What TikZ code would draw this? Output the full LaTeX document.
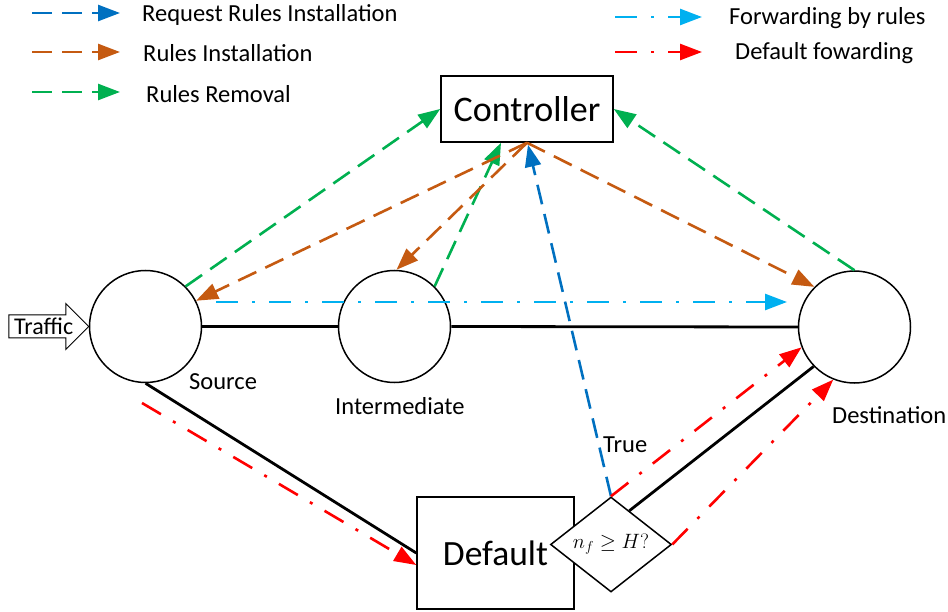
\documentclass[tikz,border=0pt]{standalone}
\usepackage{fontspec}
\setmainfont{Carlito}
\usetikzlibrary{arrows.meta,shapes.geometric,calc}

\definecolor{reqblue}{HTML}{0070C0}
\definecolor{instorange}{HTML}{C55A11}
\definecolor{remgreen}{HTML}{00B050}
\definecolor{fwdcyan}{HTML}{00B0F0}
\definecolor{defred}{HTML}{FF0000}

\begin{document}
\begin{tikzpicture}[x=1pt,y=-1pt,
  lbl/.style={font=\fontsize{24.5}{28}\selectfont, anchor=base west, inner sep=0pt},
  hostnode/.style={circle, draw, line width=1.5pt, minimum size=112pt, inner sep=0pt, fill=white},
  boxnode/.style={rectangle, draw, line width=1.5pt, fill=white, inner sep=0pt},
  tipped/.style={-{Triangle[length=22pt,width=16pt]}},
  dashline/.style={tipped, line width=2.6pt, dash pattern=on 20pt off 10pt},
  dashdotline/.style={tipped, line width=2.6pt, dash pattern=on 22pt off 14pt on 3pt off 14pt},
  link/.style={line width=2.8pt},
]
\useasboundingbox (0,0) rectangle (948,612);

% ---------- legend ----------
\coordinate (l1s) at (32,13);  \coordinate (l1e) at (120,13);
\coordinate (l2s) at (32,52);  \coordinate (l2e) at (120,52);
\coordinate (l3s) at (32,92);  \coordinate (l3e) at (120,92);
\coordinate (r1s) at (615,17); \coordinate (r1e) at (702,17);
\coordinate (r2s) at (615,52); \coordinate (r2e) at (702,52);
\draw[dashline, reqblue] (l1s) -- (l1e);
\draw[dashline, instorange] (l2s) -- (l2e);
\draw[dashline, remgreen] (l3s) -- (l3e);
\draw[dashdotline, fwdcyan] (r1s) -- (r1e);
\draw[dashdotline, defred] (r2s) -- (r2e);
\node[lbl] (t1) at (142,22) {Request Rules Installation};
\node[lbl] (t2) at (143,62) {Rules Installation};
\node[lbl] (t3) at (146,103) {Rules Removal};
\node[lbl] (t4) at (729,25) {Forwarding by rules};
\node[lbl] (t5) at (735,60) {Default fowarding};

% ---------- nodes ----------
\node[hostnode] (src) at (145.5,326.5) {};
\node[hostnode] (mid) at (394.5,326.5) {};
\node[hostnode] (dst) at (854.5,327) {};
\node[boxnode, minimum width=172pt, minimum height=66pt, font=\fontsize{36}{40}\selectfont]
  (ctrl) at (527,109) {Controller};
\node[boxnode, minimum width=157pt, minimum height=112pt, font=\fontsize{35.5}{40}\selectfont]
  (dflt) at (495.5,553) {Default};
\node[diamond, draw, line width=1.5pt, fill=white, inner sep=0pt, aspect=1.27,
  minimum width=121pt, minimum height=95pt, font=\fontsize{22}{26}\selectfont]
  (dec) at (611,544.5) {$n_f \geq H?$};

\node[lbl] (lsrc) at (189,389) {Source};
\node[lbl] (lmid) at (335,414) {Intermediate};
\node[lbl] (ldst) at (832,423) {Destination};
\node[lbl] (ltrue) at (603,452) {True};

% ---------- incoming traffic ----------
\draw[line width=1pt, fill=white] (src.west) -- ++(-23,-23) -- ++(0,11.5) -- ++(-57,0)
  -- ++(0,23) -- ++(57,0) -- ++(0,11.5) -- cycle;
\node[lbl, font=\fontsize{24}{28}\selectfont] (traffic) at (14,335) {Traffic};

% ---------- physical links ----------
\draw[link] (src.east) -- (mid.west);
\draw[link] (mid.east) -- (dst.west);
\draw[link] (src.south) -- (dflt.west);
\draw[link] ($(dec.north)!0.3!(dec.east)$) -- (dst.224);

% ---------- control messages ----------
\draw[dashline, remgreen] (src.45) -- (ctrl.west);
\draw[dashline, remgreen] (mid.45) -- ($(ctrl.south)+(-26,0)$);
\draw[dashline, remgreen] (dst.north) -- (ctrl.east);
\draw[dashline, instorange] (ctrl.south) -- (src.27);
\draw[dashline, instorange] (ctrl.south) -- (mid.88);
\draw[dashline, instorange] (ctrl.south) -- (dst.135);
\draw[dashline, reqblue] (dec.north) -- ($(ctrl.south)+(1,2)$);

% ---------- data forwarding ----------
\coordinate (fwdS) at (216,302);
\coordinate (fwdE) at (787,302);
\draw[dashdotline, fwdcyan] (fwdS) -- (fwdE);
\coordinate (dfS) at (142,403);
\draw[dashdotline, defred] (dfS) -- ($(dflt.west)+(0,12)$);
\draw[dashdotline, defred] (dec.north) -- (dst.201);
\draw[dashdotline, defred] (dec.east) -- (dst.248);
\end{tikzpicture}
\end{document}
